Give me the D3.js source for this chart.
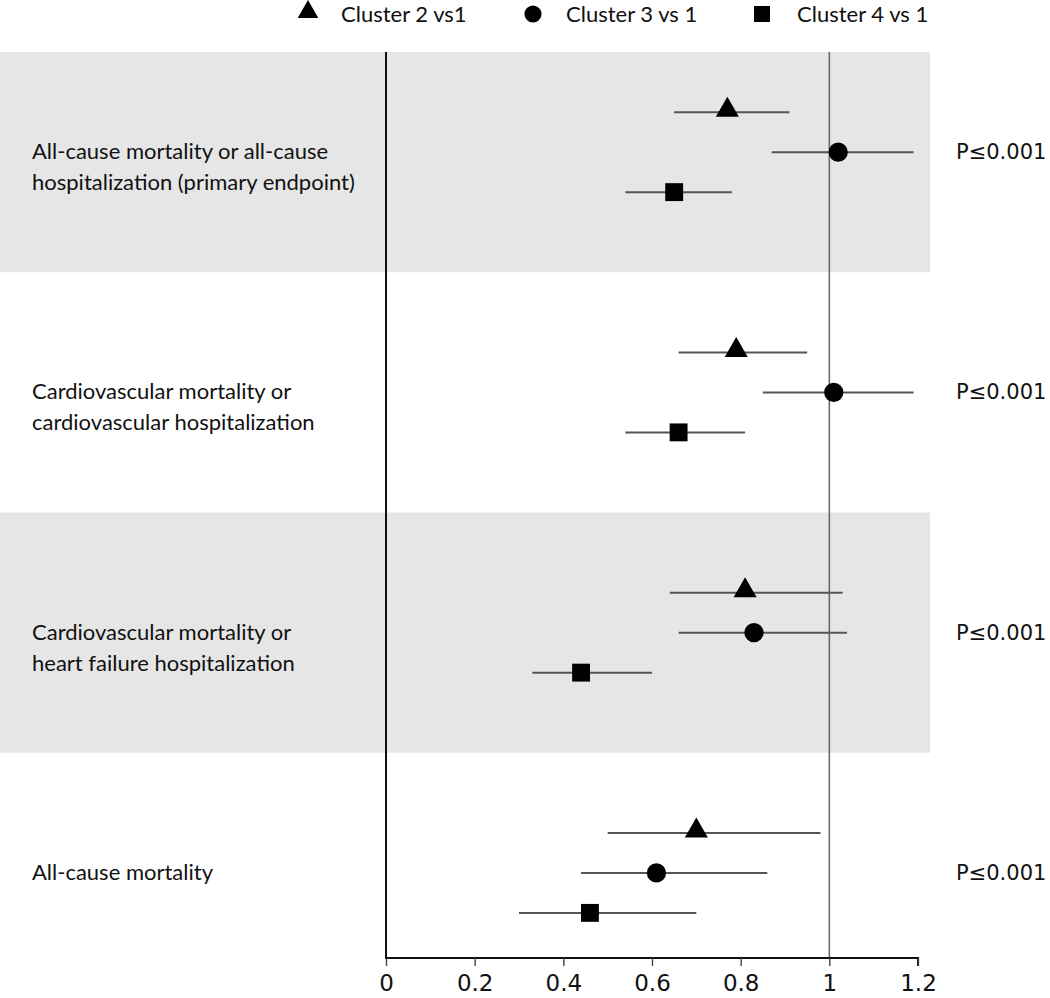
<!DOCTYPE html>
<html><head><meta charset="utf-8">
<script src="https://cdn.jsdelivr.net/npm/d3@7"></script>
<style>body{margin:0;background:#fff;} svg{display:block;} text{font-family:"Lato","Open Sans",sans-serif;fill:#111;}</style>
</head><body>
<svg id="c" width="1050" height="998"></svg>
<script>
const endpoints = [
  ["All-cause mortality or all-cause", "hospitalization (primary endpoint)"],
  ["Cardiovascular mortality or", "cardiovascular hospitalization"],
  ["Cardiovascular mortality or", "heart failure hospitalization"],
  ["All-cause mortality"]
];
const pLabels = ["P≤0.001", "P≤0.001", "P≤0.001", "P≤0.001"];
const seriesNames = ["Cluster 2 vs1", "Cluster 3 vs 1", "Cluster 4 vs 1"];
const seriesShapes = ["triangle", "circle", "square"];
// hazard ratios per endpoint, per series
const hr2 = [0.77, 0.79, 0.81, 0.70];
const lo2 = [0.65, 0.66, 0.64, 0.50];
const hi2 = [0.91, 0.95, 1.03, 0.98];
const hr3 = [1.02, 1.01, 0.83, 0.61];
const lo3 = [0.87, 0.85, 0.66, 0.44];
const hi3 = [1.19, 1.19, 1.04, 0.86];
const hr4 = [0.65, 0.66, 0.44, 0.46];
const lo4 = [0.54, 0.54, 0.33, 0.30];
const hi4 = [0.78, 0.81, 0.60, 0.70];
const xTicks = [0, 0.2, 0.4, 0.6, 0.8, 1, 1.2];

const svg = d3.select("#c");
const plotTop = 52, plotBottom = 958;
const x = d3.scaleLinear().domain([0, 1.2]).range([386, 918]);
const y = d3.scaleBand().domain(d3.range(endpoints.length)).range([32, 993]);
const off = d3.scalePoint().domain(d3.range(3)).range([-40, 40]);

const series = [
  {hr: hr2, lo: lo2, hi: hi2},
  {hr: hr3, lo: lo3, hi: hi3},
  {hr: hr4, lo: lo4, hi: hi4}
];

// bands
svg.append("defs").append("clipPath").attr("id","clip").append("rect")
  .attr("x",0).attr("y",plotTop).attr("width",1050).attr("height",plotBottom-plotTop);
svg.append("g").attr("clip-path","url(#clip)").selectAll("rect")
  .data(endpoints.map((d,i)=>i).filter(i=>i%2===0)).join("rect")
  .attr("x",0).attr("width",930).attr("y",i=>y(i)).attr("height",y.step())
  .attr("fill","#e6e6e6");

// reference line at 1
svg.append("line").attr("x1",x(1)).attr("x2",x(1)).attr("y1",plotTop).attr("y2",plotBottom)
  .attr("stroke","#6a6a6a").attr("stroke-width",1.6);

// x axis
const ax = svg.append("g").attr("transform",`translate(0,${plotBottom})`)
  .call(d3.axisBottom(x).tickValues(xTicks).tickFormat(d3.format("~g")).tickSize(8).tickPadding(9));
ax.select(".domain").attr("stroke","#111").attr("stroke-width",2).attr("d",`M${x(0)},0H${x(1.2)}V8`);
ax.selectAll(".tick line").attr("stroke","#444").attr("stroke-width",1.4);
ax.selectAll(".tick text").attr("font-size",23).attr("fill","#111").style("font-family","'DejaVu Sans', sans-serif");

// y axis line
svg.append("line").attr("x1",x(0)).attr("x2",x(0)).attr("y1",plotTop).attr("y2",plotBottom+1)
  .attr("stroke","#111").attr("stroke-width",2);

// symbols
const symType = {triangle: d3.symbolTriangle, circle: d3.symbolCircle, square: d3.symbolSquare};
const symSize = {triangle: 230, circle: 290, square: 320};

series.forEach((s, si) => {
  const g = svg.append("g");
  const idx = d3.range(endpoints.length);
  g.selectAll("line").data(idx).join("line")
    .attr("x1", i=>x(s.lo[i])).attr("x2", i=>x(s.hi[i]))
    .attr("y1", i=>y(i)+y.bandwidth()/2+off(si)).attr("y2", i=>y(i)+y.bandwidth()/2+off(si))
    .attr("stroke","#555").attr("stroke-width",2);
  const shape = seriesShapes[si];
  g.selectAll("path").data(idx).join("path")
    .attr("d", d3.symbol().type(symType[shape]).size(symSize[shape]))
    .attr("transform", i=>`translate(${x(s.hr[i])},${y(i)+y.bandwidth()/2+off(si) + (shape==="triangle"?-2:0)})`)
    .attr("fill","#000");
});

// endpoint labels
endpoints.forEach((lines, i) => {
  const t = svg.append("text").attr("x",32).attr("y",y(i)+y.bandwidth()/2-2).attr("font-size",22)
    .attr("dominant-baseline","central");
  lines.forEach((l, k) => t.append("tspan").attr("x",32).attr("dy", k===0?0:31).text(l));
});

// p labels
svg.selectAll("text.p").data(pLabels).join("text").attr("class","p")
  .attr("x",956).attr("y",(d,i)=>y(i)+y.bandwidth()/2).attr("dominant-baseline","central")
  .attr("font-size",21).style("font-family","'DejaVu Sans', sans-serif").text(d=>d);

// legend
const legX = [308, 533, 762];
const lg = svg.append("g");
seriesNames.forEach((n, i) => {
  const shape = seriesShapes[i];
  lg.append("path").attr("d", d3.symbol().type(symType[shape]).size(symSize[shape]*0.8))
    .attr("transform",`translate(${legX[i]},${shape==="triangle"?12:14})`).attr("fill","#000");
  lg.append("text").attr("x",legX[i]+ (i===2?35:33)).attr("y",13).attr("dominant-baseline","central")
    .attr("font-size",22).text(n);
});
</script>
</body></html>
